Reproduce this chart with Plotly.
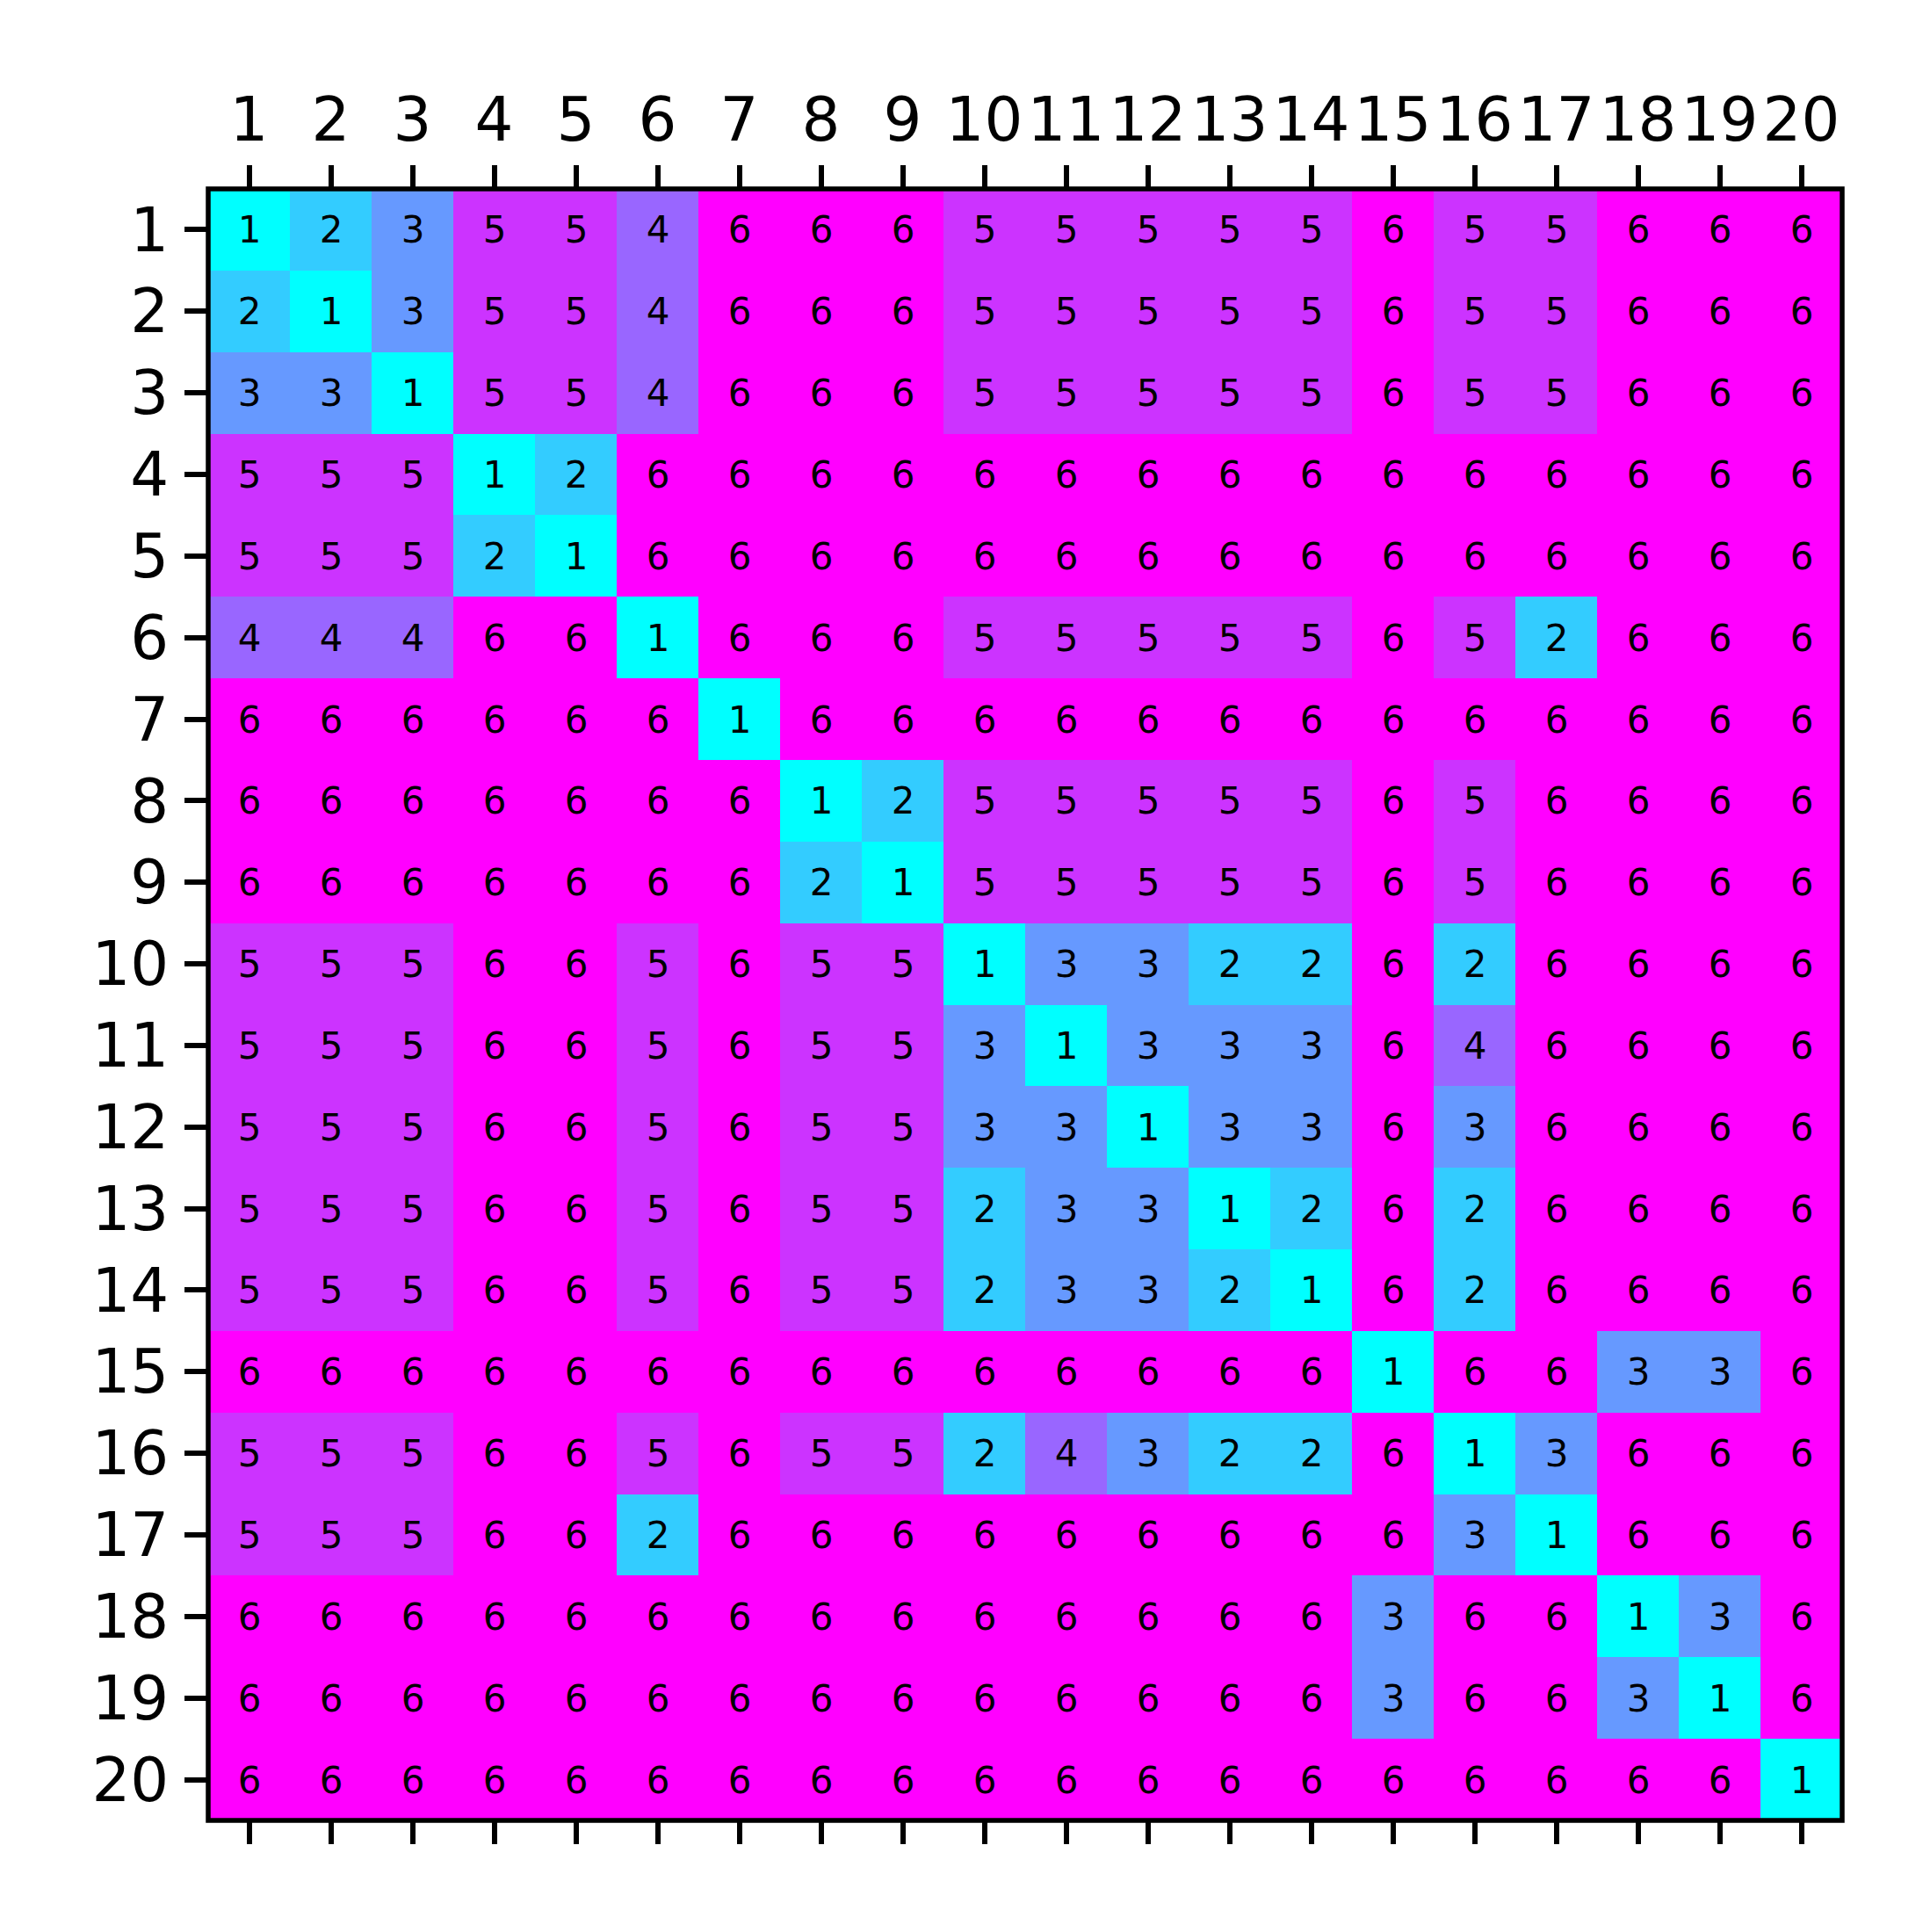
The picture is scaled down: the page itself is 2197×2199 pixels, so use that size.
import plotly.graph_objects as go

labels = list(range(1, 21))
z = [
    [1, 2, 3, 5, 5, 4, 6, 6, 6, 5, 5, 5, 5, 5, 6, 5, 5, 6, 6, 6],
    [2, 1, 3, 5, 5, 4, 6, 6, 6, 5, 5, 5, 5, 5, 6, 5, 5, 6, 6, 6],
    [3, 3, 1, 5, 5, 4, 6, 6, 6, 5, 5, 5, 5, 5, 6, 5, 5, 6, 6, 6],
    [5, 5, 5, 1, 2, 6, 6, 6, 6, 6, 6, 6, 6, 6, 6, 6, 6, 6, 6, 6],
    [5, 5, 5, 2, 1, 6, 6, 6, 6, 6, 6, 6, 6, 6, 6, 6, 6, 6, 6, 6],
    [4, 4, 4, 6, 6, 1, 6, 6, 6, 5, 5, 5, 5, 5, 6, 5, 2, 6, 6, 6],
    [6, 6, 6, 6, 6, 6, 1, 6, 6, 6, 6, 6, 6, 6, 6, 6, 6, 6, 6, 6],
    [6, 6, 6, 6, 6, 6, 6, 1, 2, 5, 5, 5, 5, 5, 6, 5, 6, 6, 6, 6],
    [6, 6, 6, 6, 6, 6, 6, 2, 1, 5, 5, 5, 5, 5, 6, 5, 6, 6, 6, 6],
    [5, 5, 5, 6, 6, 5, 6, 5, 5, 1, 3, 3, 2, 2, 6, 2, 6, 6, 6, 6],
    [5, 5, 5, 6, 6, 5, 6, 5, 5, 3, 1, 3, 3, 3, 6, 4, 6, 6, 6, 6],
    [5, 5, 5, 6, 6, 5, 6, 5, 5, 3, 3, 1, 3, 3, 6, 3, 6, 6, 6, 6],
    [5, 5, 5, 6, 6, 5, 6, 5, 5, 2, 3, 3, 1, 2, 6, 2, 6, 6, 6, 6],
    [5, 5, 5, 6, 6, 5, 6, 5, 5, 2, 3, 3, 2, 1, 6, 2, 6, 6, 6, 6],
    [6, 6, 6, 6, 6, 6, 6, 6, 6, 6, 6, 6, 6, 6, 1, 6, 6, 3, 3, 6],
    [5, 5, 5, 6, 6, 5, 6, 5, 5, 2, 4, 3, 2, 2, 6, 1, 3, 6, 6, 6],
    [5, 5, 5, 6, 6, 2, 6, 6, 6, 6, 6, 6, 6, 6, 6, 3, 1, 6, 6, 6],
    [6, 6, 6, 6, 6, 6, 6, 6, 6, 6, 6, 6, 6, 6, 3, 6, 6, 1, 3, 6],
    [6, 6, 6, 6, 6, 6, 6, 6, 6, 6, 6, 6, 6, 6, 3, 6, 6, 3, 1, 6],
    [6, 6, 6, 6, 6, 6, 6, 6, 6, 6, 6, 6, 6, 6, 6, 6, 6, 6, 6, 1],
]

W, H = 2197, 2199
L, R, T, B = 237, 2097, 215, 2072

fig = go.Figure()
fig.add_trace(go.Heatmap(
    z=z, x=labels, y=labels,
    colorscale=[[0, "rgb(0,255,255)"], [1, "rgb(255,0,255)"]],
    zmin=1, zmax=6, showscale=False,
    texttemplate="%{z}",
    textfont=dict(family="DejaVu Sans", size=42, color="black"),
    hoverinfo="skip",
))
# invisible trace for bottom tick axis
fig.add_trace(go.Scatter(x=[1], y=[1], xaxis="x2", yaxis="y",
                         mode="markers", marker=dict(opacity=0),
                         showlegend=False, hoverinfo="skip"))

tickfont = dict(family="DejaVu Sans", size=69, color="black")
common = dict(ticks="outside", ticklen=26, tickwidth=5.5, tickcolor="black",
              showgrid=False, zeroline=False, showline=False)
fig.update_layout(
    width=W, height=H,
    margin=dict(l=L, r=W - R, t=T, b=H - B, pad=0),
    paper_bgcolor="white", plot_bgcolor="white",
    xaxis=dict(side="top", range=[0.5, 20.5], tickmode="array",
               tickvals=labels, ticktext=[str(v) for v in labels],
               tickfont=tickfont, **common),
    xaxis2=dict(overlaying="x", side="bottom", range=[0.5, 20.5],
                tickmode="array", tickvals=labels, showticklabels=False,
                matches="x", **common),
    yaxis=dict(range=[20.5, 0.5], tickmode="array", tickvals=labels,
               ticktext=[str(v) for v in labels], tickfont=tickfont,
               ticklabelstandoff=4, **common),
    shapes=[dict(type="rect", xref="paper", yref="paper", x0=0, x1=1,
                 y0=0, y1=1, line=dict(color="black", width=5.5),
                 fillcolor="rgba(0,0,0,0)", layer="above")],
    showlegend=False,
)
fig.write_html("out.html")
